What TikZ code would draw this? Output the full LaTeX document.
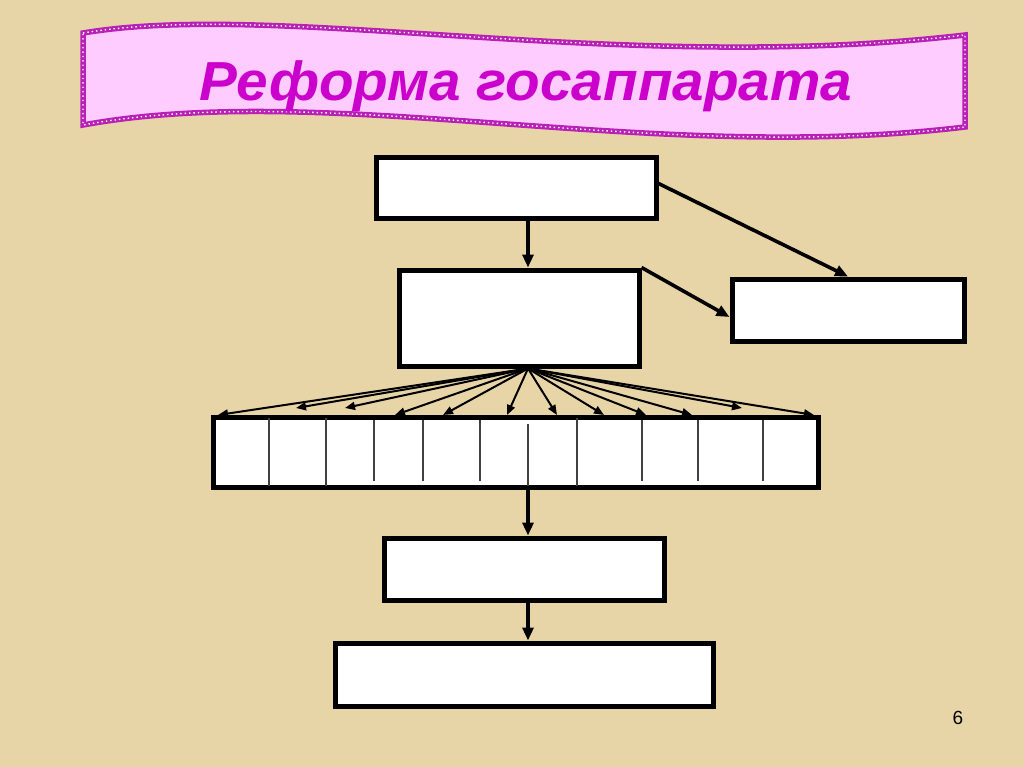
\documentclass[tikz,border=0pt]{standalone}
\usepackage{fontspec}
\setmainfont{Liberation Sans}
\usetikzlibrary{arrows.meta,calc}
\definecolor{parch}{HTML}{E8D5A7}
\definecolor{bannerfill}{HTML}{FFCCFF}
\definecolor{bannerline}{HTML}{B820B8}
\definecolor{titlecol}{HTML}{CC00CC}
\definecolor{divcol}{HTML}{404040}
\tikzset{
  box/.style={draw=black, fill=white, line width=5pt, inner sep=0pt, rectangle},
  arr/.style={line width=3.6pt, -{Triangle[length=13pt,width=11pt]}},
  fan/.style={line width=2pt, -{Triangle[length=10pt,width=8pt]}},
  divider/.style={line width=1.5pt, draw=divcol},
}
\def\bannershape{(83,33) .. controls (280,0) and (620,75) .. (965,35)
  -- (965,127) .. controls (650,165) and (330,80) .. (83,125) -- cycle}
\begin{document}
\begin{tikzpicture}[x=1pt,y=-1pt]
\fill[parch] (0,0) rectangle (1024,767);
\useasboundingbox (0,0) rectangle (1024,767);
% banner
\path[fill=bannerfill, draw=bannerline, line width=5.5pt] \bannershape;
\path[draw=white, line width=1.4pt, dash pattern=on 1.4pt off 3pt] \bannershape;
\node[text=titlecol, xscale=1.03, font=\fontsize{55}{60}\selectfont\bfseries\itshape] (title) at (526,86) {Реформа госаппарата};
% boxes
\node[box, minimum width=280pt, minimum height=61pt] (A) at (516,188.5) {};
\node[box, minimum width=240pt, minimum height=96pt] (B) at (519,318) {};
\node[box, minimum width=232pt, minimum height=62pt] (C) at (848,310) {};
\node[box, minimum width=605pt, minimum height=70pt] (D) at (515.5,452) {};
\node[box, minimum width=280pt, minimum height=62pt] (E) at (524,569) {};
\node[box, minimum width=378pt, minimum height=63pt] (F) at (524,674.5) {};
\coordinate (spine) at (528,0);
% dividers inside D
\foreach \x in {269,326,577}{\draw[divider] (\x,418) -- (\x,486);}
\foreach \x in {374,423,480,642,698,763}{\draw[divider] (\x,420) -- (\x,481);}
\draw[divider] (528,424) -- (528,486);
% main arrows
\draw[arr] (A.south -| spine) -- (B.north -| spine);
\draw[arr] ([yshift=5pt]A.east) -- (C.north);
\draw[arr] (B.north east) -- ([yshift=-7pt]C.west);
\draw[arr] (D.south -| spine) -- (E.north -| spine);
\draw[arr] (E.south -| spine) -- (F.north -| spine);
% fan arrows
\coordinate (fo) at (B.south -| spine);
\foreach \x/\y [count=\i] in {218/415,296/408,345/408,395/415,443/415,507/415,557/415,604/415,646/415,692/415,742/408,814/415}{
  \coordinate (t\i) at (\x,\y);
  \draw[fan] (fo) -- (t\i);
}
\node[font=\fontsize{19}{20}\selectfont] (pg) at (958,718) {6};
\end{tikzpicture}
\end{document}
